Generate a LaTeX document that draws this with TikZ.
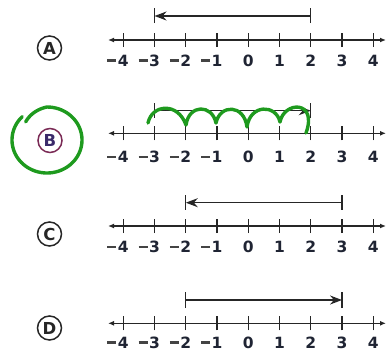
\documentclass[tikz,border=0pt]{standalone}
\usepackage{fontspec}
\setmainfont{DejaVu Sans}
\usetikzlibrary{arrows.meta}
\definecolor{ink}{HTML}{262626}
\definecolor{lbl}{HTML}{1F2433}
\definecolor{minusc}{HTML}{444444}
\definecolor{pen}{HTML}{1E9A1E}
\definecolor{bcirc}{HTML}{7A2A55}
\definecolor{bletter}{HTML}{3A2A6A}
\newcommand{\mn}{\llap{\textcolor{minusc}{\rule[4.5pt]{9pt}{2.6pt}}\hspace{1.6pt}}}
\tikzset{
  axis/.style={draw=ink, line width=1.4pt, {Latex[length=6pt,width=5pt]}-{Latex[length=6pt,width=5pt]}},
  tk/.style={draw=ink, line width=1.2pt},
  ray/.style={draw=ink, line width=1.4pt},
  numlbl/.style={inner sep=0pt, font=\fontsize{15.5}{15.5}\selectfont\bfseries, text=lbl},
  choice/.style={circle, draw=ink, line width=1.5pt, minimum size=24pt, inner sep=0pt, font=\fontsize{16.5}{16.5}\selectfont\bfseries, text=ink},
  greenpen/.style={draw=pen, line width=3.4pt, line cap=round, line join=round}
}
\begin{document}
\begin{tikzpicture}[x=1pt,y=-1pt]
\useasboundingbox (0,0) rectangle (386,356);
% number lines
\foreach \row/\ay/\ly in {a/40/60.5, b/133.3/157, c/226/247, d/323.3/342.5} {
  \coordinate (\row L) at (108,\ay);
  \coordinate (\row R) at (386,\ay);
  \draw[axis] (\row L) -- (\row R);
  \foreach \n in {-4,...,4} {
    \coordinate (\row t\n) at ({248.3+31.25*\n},\ay);
    \draw[tk] ([yshift=-7pt]\row t\n) -- ([yshift=7pt]\row t\n);
  }
  \foreach \n in {1,2,3,4} {
    \node[numlbl] (\row m\n) at ({248.3-31.25*\n},\ly) {\mn\n};
  }
  \foreach \n in {0,1,2,3,4} {
    \node[numlbl] (\row p\n) at ({248.3+31.25*\n},\ly) {\n};
  }
}
% choice labels
\node[choice] (A) at (49.5,48) {A};
\node[choice, draw=bcirc, text=bletter] (B) at (50,140.5) {B};
\node[choice] (C) at (49.5,234) {C};
\node[choice] (D) at (49.5,328) {D};
% rays
\coordinate (aS) at ({248.3+31.25*2},16);
\coordinate (aE) at ({248.3-31.25*3},16);
\draw[tk] ([yshift=-7pt]aS) -- ([yshift=8pt]aS);
\draw[tk] ([yshift=-7pt]aE) -- ([yshift=8pt]aE);
\draw[ray, -{Stealth[length=12pt,width=9pt]}] (aS) -- (aE);
\coordinate (bS) at ({248.3-31.25*3},110.7);
\coordinate (bE) at ({248.3+31.25*2},110.7);
\draw[tk] ([yshift=-7pt]bS) -- ([yshift=8pt]bS);
\draw[tk] ([yshift=-7pt]bE) -- ([yshift=8pt]bE);
\draw[ray, -{Stealth[length=12pt,width=9pt]}] (bS) -- (bE);
\coordinate (cS) at ({248.3+31.25*3},202.7);
\coordinate (cE) at ({248.3-31.25*2},202.7);
\draw[tk] ([yshift=-7pt]cS) -- ([yshift=8pt]cS);
\draw[tk] ([yshift=-7pt]cE) -- ([yshift=8pt]cE);
\draw[ray, -{Stealth[length=12pt,width=9pt]}] (cS) -- (cE);
\coordinate (dS) at ({248.3-31.25*2},300);
\coordinate (dE) at ({248.3+31.25*3},300);
\draw[tk] ([yshift=-8pt]dS) -- ([yshift=8pt]dS);
\draw[tk] ([yshift=-8pt]dE) -- ([yshift=8pt]dE);
\draw[ray, -{Stealth[length=12pt,width=9pt]}] (dS) -- (dE);
% green annotations
\draw[greenpen] plot[domain=225:-138, samples=100]
  ({47+35*(1-0.18*max(0,(-90-\x)/48))*cos(\x)},{140+33*(1-0.18*max(0,(-90-\x)/48))*sin(\x)});
\draw[greenpen] (148,123)
  .. controls (152,104) and (178,102) .. (186,125)
  .. controls (189,104) and (212,104) .. (216,123)
  .. controls (220,104) and (244,104) .. (247,127)
  .. controls (250,104) and (276,104) .. (280,122)
  .. controls (284,101) and (318,100) .. (306,133);
\end{tikzpicture}
\end{document}
